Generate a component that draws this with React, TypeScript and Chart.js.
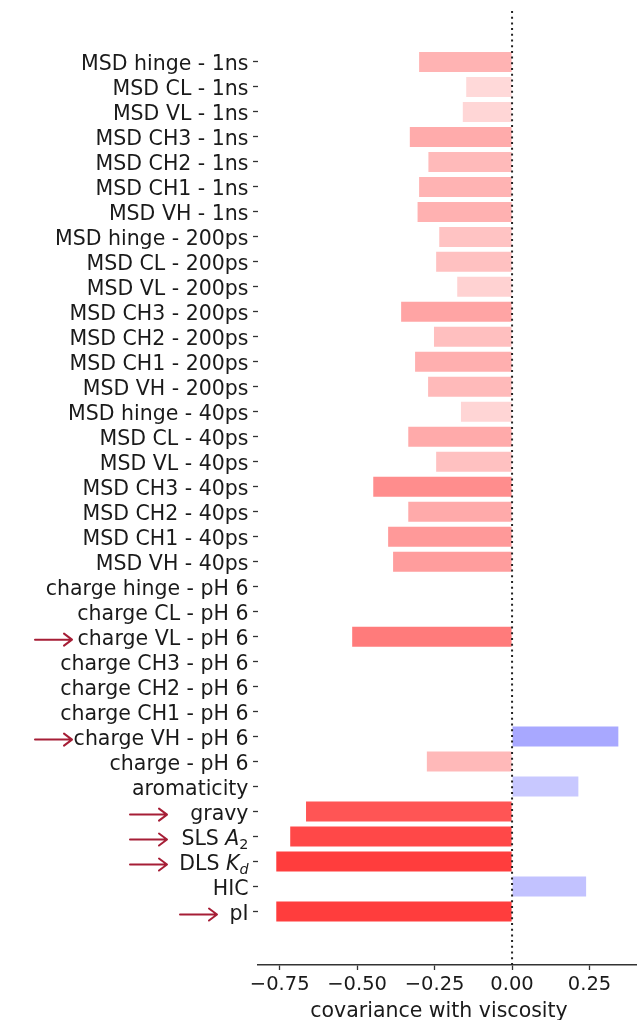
import { useEffect, useRef } from 'react';
import { Chart, registerables } from 'chart.js';

Chart.register(...registerables);

// Feature names, top to bottom. Text between $...$ is set like math: letters italic, _x subscript.
const categories = [
  'MSD hinge - 1ns',
  'MSD CL - 1ns',
  'MSD VL - 1ns',
  'MSD CH3 - 1ns',
  'MSD CH2 - 1ns',
  'MSD CH1 - 1ns',
  'MSD VH - 1ns',
  'MSD hinge - 200ps',
  'MSD CL - 200ps',
  'MSD VL - 200ps',
  'MSD CH3 - 200ps',
  'MSD CH2 - 200ps',
  'MSD CH1 - 200ps',
  'MSD VH - 200ps',
  'MSD hinge - 40ps',
  'MSD CL - 40ps',
  'MSD VL - 40ps',
  'MSD CH3 - 40ps',
  'MSD CH2 - 40ps',
  'MSD CH1 - 40ps',
  'MSD VH - 40ps',
  'charge hinge - pH 6',
  'charge CL - pH 6',
  'charge VL - pH 6',
  'charge CH3 - pH 6',
  'charge CH2 - pH 6',
  'charge CH1 - pH 6',
  'charge VH - pH 6',
  'charge - pH 6',
  'aromaticity',
  'gravy',
  'SLS $A_2$',
  'DLS $K_d$',
  'HIC',
  'pI',
];

// Covariance of each feature with viscosity.
const covariance = [
  -0.3, -0.148, -0.159, -0.33, -0.27, -0.3, -0.305,
  -0.235, -0.245, -0.177, -0.358, -0.252, -0.313, -0.271,
  -0.165, -0.335, -0.245, -0.448, -0.335, -0.4, -0.384,
  0, 0, -0.516, 0, 0, 0, 0.343,
  -0.275, 0.214, -0.665, -0.716, -0.761, 0.239, -0.761,
];

const xTickValues = [-0.75, -0.5, -0.25, 0, 0.25];
const xAxisTitle = 'covariance with viscosity';

// Highlighted features get a pointer arrow left of their label (tip x in px).
const highlighted = [
  { label: 'charge VL - pH 6', tipX: 72 },
  { label: 'charge VH - pH 6', tipX: 72 },
  { label: 'gravy', tipX: 167 },
  { label: 'SLS $A_2$', tipX: 167 },
  { label: 'DLS $K_d$', tipX: 167 },
  { label: 'pI', tipX: 217 },
];

const FONT = "'DejaVu Sans', 'Liberation Sans', sans-serif";
const LABEL_SIZE = 20.5;
const TEXT_COLOR = '#1a1a1a';
const ARROW_COLOR = '#a61e36';

// Diverging blue-white-red colour for a value in [-1, 1].
function bwr(v: number): string {
  const t = Math.min(1, Math.abs(v));
  const c = Math.round(255 * (1 - t));
  return v < 0 ? `rgb(255,${c},${c})` : `rgb(${c},${c},255)`;
}

function formatTick(v: number): string {
  const s = Math.abs(v).toFixed(2);
  return v < 0 ? '\u2212' + s : s;
}

type Run = { text: string; italic: boolean; sub: boolean };

function parseLabel(label: string): Run[] {
  const runs: Run[] = [];
  label.split('$').forEach((part, k) => {
    if (k % 2 === 0) {
      if (part) runs.push({ text: part, italic: false, sub: false });
      return;
    }
    for (let i = 0; i < part.length; i++) {
      const ch = part[i];
      if (ch === '_' && i + 1 < part.length) {
        const s = part[++i];
        runs.push({ text: s, italic: /[A-Za-z]/.test(s), sub: true });
      } else {
        runs.push({ text: ch, italic: /[A-Za-z]/.test(ch), sub: false });
      }
    }
  });
  return runs;
}

function runFont(r: Run): string {
  const size = r.sub ? LABEL_SIZE * 0.7 : LABEL_SIZE;
  return `${r.italic ? 'italic ' : ''}${size}px ${FONT}`;
}

function measureRuns(ctx: CanvasRenderingContext2D, runs: Run[]): number {
  let w = 0;
  for (const r of runs) {
    ctx.font = runFont(r);
    w += ctx.measureText(r.text).width;
  }
  return w;
}

const featureLabels = {
  id: 'featureLabels',
  afterDraw(chart: Chart) {
    const { ctx } = chart;
    const yScale = chart.scales.y;
    const xScale = chart.scales.x;
    const area = chart.chartArea;
    const rightEdge = area.left - 5 - 4.5;
    ctx.save();
    ctx.textBaseline = 'alphabetic';
    ctx.textAlign = 'left';
    ctx.fillStyle = TEXT_COLOR;
    categories.forEach((label, i) => {
      const y = yScale.getPixelForValue(i);
      const runs = parseLabel(label);
      const w = measureRuns(ctx, runs);
      let x = rightEdge - w;
      const base = y + 8;
      for (const r of runs) {
        ctx.font = runFont(r);
        ctx.fillText(r.text, x, r.sub ? base + 4 : base);
        x += ctx.measureText(r.text).width;
      }
    });

    // x-axis title
    ctx.font = `20.5px ${FONT}`;
    ctx.textAlign = 'center';
    ctx.fillText(xAxisTitle, (area.left + area.right) / 2 - 8, 1017);
    ctx.textAlign = 'left';

    // zero reference line
    const x0 = xScale.getPixelForValue(0);
    ctx.beginPath();
    ctx.setLineDash([2, 3.7]);
    ctx.lineWidth = 2;
    ctx.strokeStyle = '#222';
    ctx.moveTo(x0, area.top);
    ctx.lineTo(x0, area.bottom);
    ctx.stroke();
    ctx.setLineDash([]);

    // pointer arrows
    ctx.strokeStyle = ARROW_COLOR;
    ctx.lineWidth = 2;
    ctx.lineCap = 'round';
    ctx.lineJoin = 'round';
    highlighted.forEach(({ label, tipX }) => {
      const i = categories.indexOf(label);
      if (i < 0) return;
      const y = yScale.getPixelForValue(i) + 3;
      const tail = tipX - 37;
      ctx.beginPath();
      ctx.moveTo(tail, y);
      ctx.lineTo(tipX, y);
      ctx.moveTo(tipX - 8, y - 6);
      ctx.lineTo(tipX, y);
      ctx.lineTo(tipX - 8, y + 6);
      ctx.stroke();
    });
    ctx.restore();
  },
};

export default function App() {
  const ref = useRef<HTMLCanvasElement>(null);

  useEffect(() => {
    document.body.style.margin = '0';
    const canvas = ref.current;
    if (!canvas) return;
    const chart = new Chart(canvas, {
      type: 'bar',
      data: {
        datasets: [
          {
            data: covariance.map((v, i) => ({ x: v, y: i })),
            backgroundColor: covariance.map(bwr),
            borderWidth: 0,
            barPercentage: 0.8,
            categoryPercentage: 1,
          },
        ],
      },
      options: {
        indexAxis: 'y',
        responsive: false,
        animation: false,
        layout: { padding: { top: 11, right: 5, left: 0, bottom: 0 } },
        plugins: {
          legend: { display: false },
          tooltip: { enabled: false },
        },
        scales: {
          x: {
            type: 'linear',
            position: 'bottom',
            min: -0.82,
            max: 0.4,
            afterBuildTicks: (s: any) => {
              s.ticks = xTickValues.map((v) => ({ value: v }));
            },
            afterFit: (s: any) => {
              s.height = 55;
            },
            ticks: {
              callback: (v: any) => formatTick(Number(v)),
              font: { family: FONT, size: 19.5 },
              color: TEXT_COLOR,
              padding: 3,
              maxRotation: 0,
              autoSkip: false,
            },
            grid: {
              drawOnChartArea: false,
              drawTicks: true,
              tickLength: 5,
              tickColor: '#333',
              tickWidth: 1.3,
            },
            border: { display: true, color: '#333', width: 1.5 },
          },
          y: {
            type: 'linear',
            reverse: true,
            offset: false,
            min: -2.04,
            max: 36.14,
            afterBuildTicks: (s: any) => {
              s.ticks = categories.map((_, i) => ({ value: i }));
            },
            afterFit: (s: any) => {
              s.width = 258;
            },
            ticks: { callback: () => '', autoSkip: false },
            grid: {
              offset: false,
              drawOnChartArea: false,
              drawTicks: true,
              tickLength: 5,
              tickColor: '#333',
              tickWidth: 1.3,
            },
            border: { display: false },
          },
        },
      },
      plugins: [featureLabels],
    });
    return () => chart.destroy();
  }, []);

  return (
    <div style={{ width: 641, height: 1020 }}>
      <canvas ref={ref} width={641} height={1020} style={{ display: 'block' }} />
    </div>
  );
}
